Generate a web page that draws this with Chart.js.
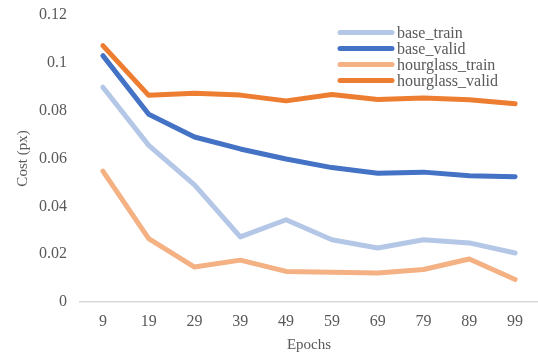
<!DOCTYPE html>
<html>
  <head>
    <script src="https://cdn.jsdelivr.net/npm/chart.js@4.4.0/dist/chart.umd.min.js"></script>
    <style type="text/css">
      html, body { margin: 0; padding: 0; background: #ffffff; }
      .wrap { width: 538px; height: 354px; }
    </style>
  </head>
  <body>
    <div class="wrap"><canvas id="canvas" width="538" height="354"></canvas></div>

    <script type="text/javascript">
      var epochs = ["9", "19", "29", "39", "49", "59", "69", "79", "89", "99"];
      var seriesNames = ["base_train", "base_valid", "hourglass_train", "hourglass_valid"];
      var baseTrain = [0.0898, 0.0655, 0.049, 0.0272, 0.0344, 0.026, 0.0226, 0.026, 0.0247, 0.0205];
      var baseValid = [0.103, 0.0785, 0.069, 0.064, 0.0598, 0.0562, 0.0538, 0.0543, 0.0528, 0.0524];
      var hourglassTrain = [0.0547, 0.0265, 0.0146, 0.0175, 0.0128, 0.0124, 0.0121, 0.0136, 0.018, 0.0094];
      var hourglassValid = [0.1072, 0.0864, 0.0873, 0.0865, 0.0841, 0.0868, 0.0847, 0.0853, 0.0846, 0.0829];
      var colors = ["#B4C7E7", "#4472C4", "#F4B183", "#ED7D31"];
      var yTicks = [0, 0.02, 0.04, 0.06, 0.08, 0.1, 0.12];

      var font = "'Liberation Serif', 'Times New Roman', serif";
      var textColor = "#595959";

      // legend sits inside the plot, top right, like the original
      var insideLegend = {
        id: "insideLegend",
        afterDraw: function(chart) {
          var ctx = chart.ctx;
          ctx.save();
          ctx.font = "16px " + font;
          ctx.textBaseline = "middle";
          chart.data.datasets.forEach(function(ds, i) {
            var y = 32.5 + i * 16;
            ctx.strokeStyle = ds.borderColor;
            ctx.lineWidth = 5;
            ctx.lineCap = "round";
            ctx.beginPath();
            ctx.moveTo(340, y);
            ctx.lineTo(392, y);
            ctx.stroke();
            ctx.fillStyle = textColor;
            ctx.fillText(ds.label, 397, y + 1);
          });
          ctx.restore();
        }
      };

      var lists = [baseTrain, baseValid, hourglassTrain, hourglassValid];
      var datasets = lists.map(function(vals, i) {
        return {
          label: seriesNames[i],
          data: vals,
          borderColor: colors[i],
          backgroundColor: colors[i],
          borderWidth: 5,
          borderCapStyle: "round",
          borderJoinStyle: "round",
          pointRadius: 0,
          tension: 0,
          fill: false,
          order: 3 - i
        };
      });

      new Chart(document.getElementById("canvas").getContext("2d"), {
        type: "line",
        data: { labels: epochs, datasets: datasets },
        plugins: [insideLegend],
        options: {
          responsive: false,
          animation: false,
          layout: { padding: { top: 15, right: 0, left: 0, bottom: 0 } },
          plugins: { legend: { display: false }, tooltip: { enabled: false } },
          scales: {
            x: {
              offset: true,
              grid: { display: false, drawTicks: false },
              border: { display: true, color: "#D9D9D9", width: 1.5 },
              ticks: { color: textColor, font: { family: font, size: 16 }, padding: 10 },
              title: { display: true, text: "Epochs", color: textColor, font: { family: font, size: 15, lineHeight: 1 }, padding: { top: 4, bottom: 1 } },
              afterFit: function(s) { s.height = 52; }
            },
            y: {
              min: 0,
              max: 0.12,
              afterBuildTicks: function(s) { s.ticks = yTicks.map(function(v) { return { value: v }; }); },
              grid: { display: false, drawTicks: false },
              border: { display: false },
              ticks: {
                color: textColor,
                font: { family: font, size: 16 },
                padding: 13,
                callback: function(v) { return String(Math.round(v * 100) / 100); }
              },
              title: { display: true, text: "Cost (px)", color: textColor, font: { family: font, size: 15 }, padding: { top: 14, bottom: 4 } },
              afterFit: function(s) { s.width = 80; s.paddingTop = 0; }
            }
          }
        }
      });
    </script>
  </body>
</html>
